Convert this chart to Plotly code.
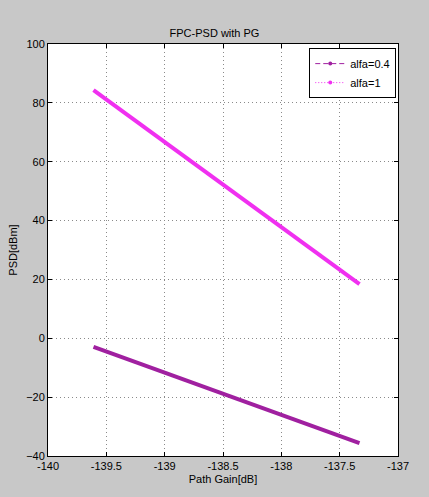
import plotly.graph_objects as go

# Data
path_gain = [-139.61, -137.33]
psd_alfa_04 = [-2.9, -35.6]
psd_alfa_1 = [84.3, 18.4]

x_ticks = [-140, -139.5, -139, -138.5, -138, -137.5, -137]
y_ticks = [-40, -20, 0, 20, 40, 60, 80, 100]

c04 = "#a020a0"
c1 = "#f030f0"

fig = go.Figure()
fig.add_trace(go.Scatter(x=path_gain, y=psd_alfa_04, mode="lines",
                         line=dict(color=c04, width=4), showlegend=False))
fig.add_trace(go.Scatter(x=path_gain, y=psd_alfa_1, mode="lines",
                         line=dict(color=c1, width=4), showlegend=False))
# legend entries
fig.add_trace(go.Scatter(x=[None], y=[None], mode="lines+markers", name="alfa=0.4",
                         line=dict(color=c04, width=1, dash="5px,3px"),
                         marker=dict(color=c04, size=4)))
fig.add_trace(go.Scatter(x=[None], y=[None], mode="lines+markers", name="alfa=1",
                         line=dict(color=c1, width=1, dash="1px,2px"),
                         marker=dict(color=c1, size=4)))

axis_common = dict(showline=True, linecolor="black", linewidth=1, mirror="ticks",
                   ticks="inside", ticklen=4, tickcolor="black",
                   showgrid=True, gridcolor="#8a8a8a", griddash="1px,3px", gridwidth=1,
                   zeroline=False, tickfont=dict(size=11, color="black"))

fig.update_layout(
    width=429, height=497,
    paper_bgcolor="#c8c8c8", plot_bgcolor="white",
    margin=dict(l=48, r=31, t=44, b=41),
    font=dict(family="Liberation Sans, Arial, sans-serif", size=11, color="black"),
    title=dict(text="FPC-PSD with PG", x=0.5, xanchor="center", y=1 - 33/497,
               yanchor="middle", font=dict(size=11)),
    xaxis=dict(range=[-140, -137], tickvals=x_ticks, ticktext=[str(v) for v in x_ticks],
               title=dict(text="Path Gain[dB]", standoff=4, font=dict(size=11)), **axis_common),
    yaxis=dict(range=[-40, 100], tickvals=y_ticks,
               title=dict(text="PSD[dBm]", standoff=6, font=dict(size=11)), **axis_common),
    legend=dict(x=0.995, y=0.99, xanchor="right", yanchor="top",
                bgcolor="white", bordercolor="black", borderwidth=1,
                font=dict(size=11), itemwidth=30, tracegroupgap=0),
)

fig.write_html("out.html")
